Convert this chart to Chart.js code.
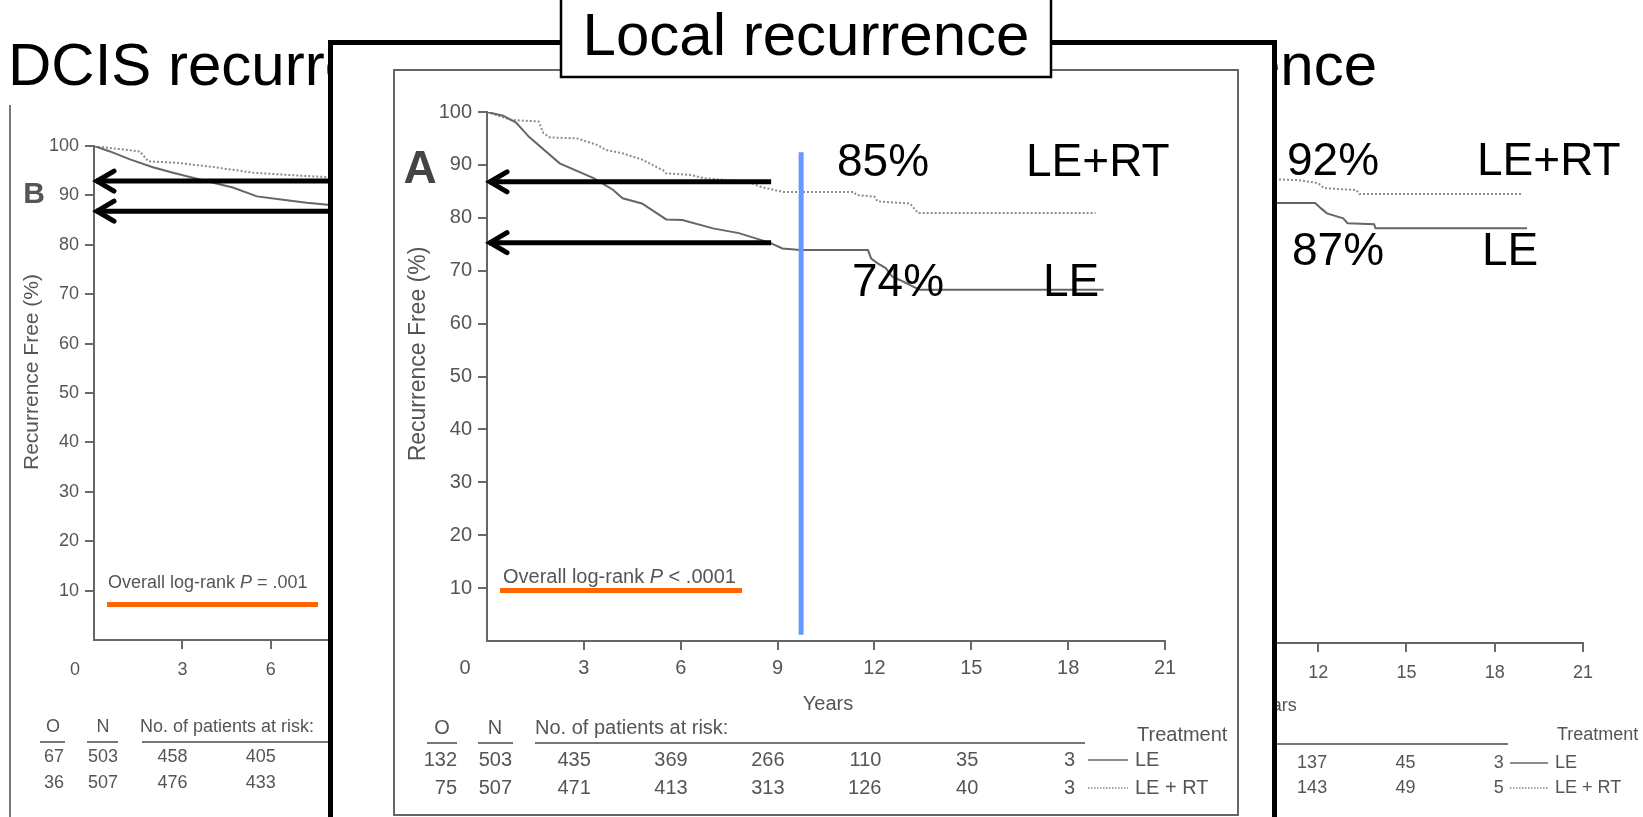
<!DOCTYPE html>
<html>
<head>
<meta charset="utf-8">
<script src="https://cdn.jsdelivr.net/npm/chart.js@4.4.1/dist/chart.umd.min.js"></script>
<style>
  html, body { margin: 0; padding: 0; background: #fff; overflow: hidden; }
  canvas { position: absolute; left: 0; top: 0; }
</style>
</head>
<body>
<canvas id="chartB" width="1643" height="817"></canvas>
<canvas id="chartC" width="1643" height="817"></canvas>
<canvas id="chartA" width="1643" height="817"></canvas>
<script>
const FONT = "'Liberation Sans', Arial, Helvetica, sans-serif";
const W = 1643, H = 817;

// tick labels (years / percent)
const xTicks = [0, 3, 6, 9, 12, 15, 18, 21];
const yTicks = [0, 10, 20, 30, 40, 50, 60, 70, 80, 90, 100];

// Panel A - local recurrence (the overlay)
const yearsA_LE = [0, 0.5, 0.9, 1.3, 2.25, 3.3, 3.9, 4.2, 4.8, 5.55, 6.05, 7.0, 7.8, 8.75, 9.15, 9.7, 11.8, 11.9, 12.1, 12.35, 12.55, 12.8, 13.2, 13.4, 19.1];
const freeA_LE  = [100, 99.3, 98.0, 95.3, 90.3, 87.5, 85.3, 83.7, 82.7, 79.7, 79.6, 78.0, 77.1, 75.3, 74.2, 73.9, 73.9, 72.3, 71.4, 70.5, 68.9, 68.2, 67.0, 66.4, 66.4];
const yearsA_RT = [0, 0.75, 1.6, 1.75, 1.95, 2.8, 3.4, 3.7, 4.2, 4.8, 5.45, 5.55, 6.3, 6.7, 8.1, 8.45, 9.15, 11.35, 11.45, 12.0, 12.1, 13.1, 13.35, 18.85];
const freeA_RT  = [100, 98.5, 98.2, 96.0, 95.2, 95.0, 93.8, 92.8, 92.2, 91.0, 89.0, 88.4, 88.1, 87.5, 86.8, 85.9, 84.9, 84.9, 84.3, 84.0, 83.1, 82.7, 80.9, 80.9];
const riskYearsA = [3, 6, 9, 12, 15, 18];
const riskA_LE = [435, 369, 266, 110, 35, 3];
const riskA_RT = [471, 413, 313, 126, 40, 3];
const eventsA = [132, 75];
const patientsA = [503, 507];
const arrowsA = [86.8, 75.3];
const markYearA = 9.73;
const labelsA = ['85%', 'LE+RT', '74%', 'LE'];

// Panel B - DCIS recurrence (background, left)
const yearsB_LE = [0, 0.54, 1.22, 2.0, 2.68, 3.59, 4.71, 5.53, 6.41, 7.22, 7.93, 8.5];
const freeB_LE  = [100, 98.9, 97.3, 95.7, 94.6, 93.2, 91.6, 89.8, 89.1, 88.5, 88.1, 87.8];
const yearsB_RT = [0, 0.54, 1.56, 1.84, 2.8, 3.82, 4.71, 5.39, 6.98, 7.93, 8.5];
const freeB_RT  = [100, 99.6, 98.9, 96.9, 96.6, 95.9, 95.2, 94.6, 94.0, 93.7, 93.5];
const riskYearsB = [3, 6];
const riskB_LE = [458, 405];
const riskB_RT = [476, 433];
const eventsB = [67, 36];
const patientsB = [503, 507];
const arrowsB = [92.9, 86.8];

// Panel C - invasive recurrence (background, right)
const yearsC_LE = [10.4, 11.9, 12.1, 12.3, 12.85, 13.0, 13.9, 13.95, 19.1];
const freeC_LE  = [88.9, 88.9, 87.8, 86.8, 85.8, 84.8, 84.6, 83.8, 83.8];
const yearsC_RT = [10.4, 11.35, 12.0, 12.2, 13.3, 13.4, 18.9];
const freeC_RT  = [93.7, 93.5, 92.9, 91.9, 91.5, 90.7, 90.7];
const riskYearsC = [12, 15, 18];
const riskC_LE = [137, 45, 3];
const riskC_RT = [143, 49, 5];
const labelsC = ['92%', 'LE+RT', '87%', 'LE'];

// ---- drawing helpers ----
function txt(ctx, s, x, y, size, color, align, weight, baseline) {
  ctx.save();
  ctx.font = (weight || '') + ' ' + size + 'px ' + FONT;
  ctx.fillStyle = color;
  ctx.textAlign = align || 'left';
  ctx.textBaseline = baseline || 'middle';
  ctx.fillText(String(s), x, y);
  ctx.restore();
}

function vtxt(ctx, s, x, y, size, color) {
  ctx.save();
  ctx.translate(x, y);
  ctx.rotate(-Math.PI / 2);
  txt(ctx, s, 0, 0, size, color, 'center');
  ctx.restore();
}

function line(ctx, x1, y1, x2, y2, color, w, dash) {
  ctx.save();
  ctx.strokeStyle = color;
  ctx.lineWidth = w;
  ctx.setLineDash(dash || []);
  ctx.beginPath();
  ctx.moveTo(x1, y1);
  ctx.lineTo(x2, y2);
  ctx.stroke();
  ctx.restore();
}

function arrow(ctx, xTip, xEnd, y) {
  ctx.save();
  ctx.strokeStyle = '#000';
  ctx.lineWidth = 5;
  ctx.beginPath();
  ctx.moveTo(xEnd, y);
  ctx.lineTo(xTip + 2, y);
  ctx.stroke();
  ctx.lineCap = 'round';
  ctx.beginPath();
  ctx.moveTo(xTip + 20, y - 10);
  ctx.lineTo(xTip + 3, y);
  ctx.lineTo(xTip + 20, y + 10);
  ctx.stroke();
  ctx.restore();
}

function pval(ctx, x, y, size, rest) {
  ctx.save();
  ctx.fillStyle = '#555';
  ctx.textBaseline = 'middle';
  ctx.textAlign = 'left';
  ctx.font = size + 'px ' + FONT;
  const a = 'Overall log-rank ';
  ctx.fillText(a, x, y);
  let w = ctx.measureText(a).width;
  ctx.font = 'italic ' + size + 'px ' + FONT;
  ctx.fillText('P', x + w, y);
  w += ctx.measureText('P').width;
  ctx.font = size + 'px ' + FONT;
  ctx.fillText(rest, x + w, y);
  ctx.restore();
}

const hideZero = c => (c.tick && c.tick.value === 0) ? 'rgba(0,0,0,0)' : '#6a6a6a';

function kmChart(id, area, tickSize, xPad, series, extras) {
  const yW = 60, xH = 40;
  return new Chart(document.getElementById(id), {
    type: 'line',
    data: {
      datasets: series.map(s => ({
        label: s.label,
        data: s.x.map((x, i) => ({ x: x, y: s.y[i] })),
        borderColor: s.dotted ? '#8c8c8c' : '#666',
        borderWidth: 2,
        borderDash: s.dotted ? [2, 2] : [],
        pointRadius: 0,
        tension: 0,
        fill: false
      }))
    },
    options: {
      responsive: false,
      devicePixelRatio: 1,
      animation: false,
      layout: { padding: { left: area.left - yW, top: area.top, right: W - area.right, bottom: H - area.bottom - xH } },
      plugins: { legend: { display: false }, tooltip: { enabled: false } },
      scales: {
        x: {
          type: 'linear', min: 0, max: 21,
          afterBuildTicks: s => { s.ticks = xTicks.map(v => ({ value: v })); },
          afterFit: s => { s.height = xH; },
          grid: { drawOnChartArea: false, tickLength: 9, lineWidth: 2, color: hideZero },
          border: { color: '#666', width: 2 },
          ticks: { padding: xPad, color: '#555', font: { size: tickSize }, maxRotation: 0, autoSkip: false,
                   callback: v => v === 0 ? '' : v }
        },
        y: {
          type: 'linear', min: 0, max: 100,
          afterBuildTicks: s => { s.ticks = yTicks.map(v => ({ value: v })); },
          afterFit: s => { s.width = yW; },
          grid: { drawOnChartArea: false, tickLength: 9, lineWidth: 2, color: hideZero },
          border: { color: '#666', width: 2 },
          ticks: { padding: 6, color: '#555', font: { size: tickSize }, autoSkip: false,
                   callback: v => v === 0 ? '' : v }
        }
      }
    },
    plugins: [extras]
  });
}

// ---- Panel B (background left) ----
kmChart('chartB', { left: 94, top: 146, right: 713, bottom: 640 }, 18, 10, [
  { label: 'LE', x: yearsB_LE, y: freeB_LE },
  { label: 'LE + RT', x: yearsB_RT, y: freeB_RT, dotted: true }
], {
  id: 'extrasB',
  afterDraw(chart) {
    const ctx = chart.ctx, X = v => chart.scales.x.getPixelForValue(v), Y = v => chart.scales.y.getPixelForValue(v);
    txt(ctx, 'DCIS recurrence', 8, 85, 60, '#000', 'left', '', 'alphabetic');
    line(ctx, 10, 105, 10, H + 5, '#777', 2);
    txt(ctx, 'B', 34, 195, 30, '#555', 'center', 'bold');
    vtxt(ctx, 'Recurrence Free (%)', 32, 372, 21, '#555');
    txt(ctx, '0', 75, 670, 18, '#555', 'center');
    txt(ctx, 'Years', (X(0) + X(21)) / 2, 704, 18, '#555', 'center');
    pval(ctx, 108, 583, 18, ' = .001');
    ctx.fillStyle = '#ff6600';
    ctx.fillRect(107, 602, 211, 5);
    arrowsB.forEach(v => arrow(ctx, X(0), X(10), Y(v)));
    // numbers at risk
    txt(ctx, 'O', 53, 727, 18, '#555', 'center');
    txt(ctx, 'N', 103, 727, 18, '#555', 'center');
    txt(ctx, 'No. of patients at risk:', 140, 727, 18, '#555');
    line(ctx, 40, 742, 65, 742, '#777', 2);
    line(ctx, 87, 742, 118, 742, '#777', 2);
    line(ctx, 142, 742, 700, 742, '#777', 2);
    [757, 783].forEach((yy, r) => {
      txt(ctx, eventsB[r], 64, yy, 18, '#555', 'right');
      txt(ctx, patientsB[r], 118, yy, 18, '#555', 'right');
      const row = r === 0 ? riskB_LE : riskB_RT;
      riskYearsB.forEach((yr, i) => txt(ctx, row[i], X(yr) + 5, yy, 18, '#555', 'right'));
    });
  }
});

// ---- Panel C (background right) ----
kmChart('chartC', { left: 965, top: 148, right: 1583, bottom: 643 }, 18, 10, [
  { label: 'LE', x: yearsC_LE, y: freeC_LE },
  { label: 'LE + RT', x: yearsC_RT, y: freeC_RT, dotted: true }
], {
  id: 'extrasC',
  afterDraw(chart) {
    const ctx = chart.ctx, X = v => chart.scales.x.getPixelForValue(v);
    txt(ctx, 'Invasive recurrence', 1377, 85, 60, '#000', 'right', '', 'alphabetic');
    txt(ctx, 'Years', (X(0) + X(21)) / 2, 706, 18, '#555', 'center');
    txt(ctx, labelsC[0], 1287, 162, 46, '#000');
    txt(ctx, labelsC[1], 1477, 162, 46, '#000');
    txt(ctx, labelsC[2], 1292, 252, 46, '#000');
    txt(ctx, labelsC[3], 1482, 252, 46, '#000');
    txt(ctx, 'Treatment', 1557, 735, 18, '#555');
    line(ctx, X(0), 744, 1508, 744, '#777', 2);
    [763, 788].forEach((yy, r) => {
      const row = r === 0 ? riskC_LE : riskC_RT;
      riskYearsC.forEach((yr, i) => txt(ctx, row[i], X(yr) + 9, yy, 18, '#555', 'right'));
      line(ctx, 1510, yy, 1548, yy, r === 0 ? '#666' : '#888', 1.5, r === 0 ? [] : [1.5, 1.5]);
      txt(ctx, r === 0 ? 'LE' : 'LE + RT', 1555, yy, 18, '#555');
    });
  }
});

// ---- Panel A (overlay) ----
kmChart('chartA', { left: 487, top: 112, right: 1165, bottom: 641 }, 20, 6, [
  { label: 'LE', x: yearsA_LE, y: freeA_LE },
  { label: 'LE + RT', x: yearsA_RT, y: freeA_RT, dotted: true }
], {
  id: 'extrasA',
  beforeDraw(chart) {
    const ctx = chart.ctx;
    ctx.save();
    ctx.fillStyle = '#fff';
    ctx.fillRect(328, 40, 949, 800);
    ctx.strokeStyle = '#000';
    ctx.lineWidth = 5;
    ctx.strokeRect(330.5, 42.5, 944, 800);
    ctx.strokeStyle = '#666';
    ctx.lineWidth = 2;
    ctx.strokeRect(394, 70, 844, 745);
    ctx.restore();
  },
  afterDraw(chart) {
    const ctx = chart.ctx, X = v => chart.scales.x.getPixelForValue(v), Y = v => chart.scales.y.getPixelForValue(v);
    txt(ctx, 'A', 420, 170, 46, '#444', 'center', 'bold');
    vtxt(ctx, 'Recurrence Free (%)', 419, 354, 23, '#555');
    txt(ctx, '0', 465, 668, 20, '#555', 'center');
    txt(ctx, 'Years', 828, 704, 20, '#555', 'center');
    pval(ctx, 503, 577, 20, ' < .0001');
    ctx.fillStyle = '#ff6600';
    ctx.fillRect(500, 588, 242, 5);
    arrowsA.forEach(v => arrow(ctx, X(0), X(8.8), Y(v)));
    line(ctx, X(markYearA), Y(92.4), X(markYearA), Y(1.2), '#6699ff', 5);
    txt(ctx, labelsA[0], 837, 163, 46, '#000');
    txt(ctx, labelsA[1], 1026, 163, 46, '#000');
    txt(ctx, labelsA[2], 852, 283, 46, '#000');
    txt(ctx, labelsA[3], 1043, 283, 46, '#000');
    // numbers at risk
    txt(ctx, 'O', 442, 728, 20, '#555', 'center');
    txt(ctx, 'N', 495, 728, 20, '#555', 'center');
    txt(ctx, 'No. of patients at risk:', 535, 728, 20, '#555');
    txt(ctx, 'Treatment', 1137, 735, 20, '#555');
    line(ctx, 427, 743, 457, 743, '#777', 2);
    line(ctx, 478, 743, 513, 743, '#777', 2);
    line(ctx, 535, 743, 1085, 743, '#777', 2);
    [760, 788].forEach((yy, r) => {
      txt(ctx, eventsA[r], 457, yy, 20, '#555', 'right');
      txt(ctx, patientsA[r], 512, yy, 20, '#555', 'right');
      const row = r === 0 ? riskA_LE : riskA_RT;
      riskYearsA.forEach((yr, i) => txt(ctx, row[i], X(yr) + 7, yy, 20, '#555', 'right'));
      line(ctx, 1088, yy, 1128, yy, r === 0 ? '#666' : '#888', 1.5, r === 0 ? [] : [1.5, 1.5]);
      txt(ctx, r === 0 ? 'LE' : 'LE + RT', 1135, yy, 20, '#555');
    });
    // title box
    ctx.save();
    ctx.fillStyle = '#fff';
    ctx.fillRect(560, -5, 492, 83);
    ctx.strokeStyle = '#000';
    ctx.lineWidth = 2.5;
    ctx.strokeRect(561, -5, 490, 82);
    ctx.restore();
    txt(ctx, 'Local recurrence', 806, 55, 60, '#000', 'center', '', 'alphabetic');
  }
});
</script>
</body>
</html>
